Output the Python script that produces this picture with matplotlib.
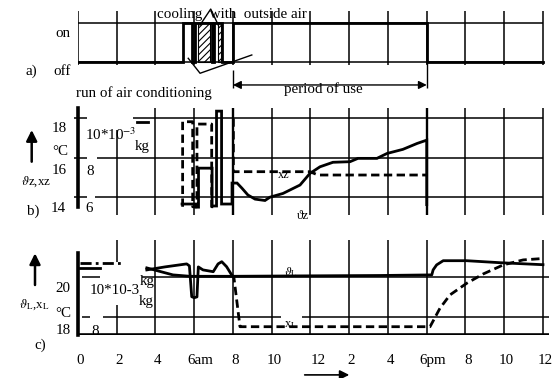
import numpy as np
import matplotlib
matplotlib.use("Agg")
import matplotlib.pyplot as plt
from matplotlib.transforms import blended_transform_factory

plt.rcParams['font.family'] = ['Liberation Serif', 'DejaVu Serif']
plt.rcParams['mathtext.fontset'] = 'stix'
plt.rcParams['hatch.linewidth'] = 0.8

# ---------------- data ----------------
hour_ticks = [0, 2, 4, 6, 8, 10, 12, 14, 16, 18, 20, 22, 24]
hour_labels = ['0', '2', '4', '6am', '8', '10', '12', '2', '4', '6pm', '8', '10', '12']

# a) air conditioning on (1) / off (0)
ac_t = [0, 5.4, 5.4, 5.9, 5.9, 6.04, 6.04, 6.9, 6.9, 7.03, 7.03, 7.45, 7.45, 8.0, 8.0, 18.0, 18.0, 24.0]
ac_s = [0, 0, 1, 1, 0, 0, 1, 1, 0, 0, 1, 1, 0, 0, 1, 1, 0, 0]
cool_start = [6.19, 7.21]
cool_end = [6.81, 7.40]
use_start, use_end = 8.0, 18.0

# b) zone temperature (degC) and zone humidity (g/kg)
tz_t = [5.37, 6.09, 6.09, 6.22, 6.22, 6.92, 6.92, 7.15, 7.15, 7.41, 7.41, 7.95, 7.95, 8.21,
        8.46, 8.77, 9.14, 9.65, 9.91, 10.58, 11.46, 11.97, 12.49, 13.16, 14.04, 14.45,
        15.43, 15.95, 16.77, 17.50, 18.0, 18.0]
tz_v = [13.63, 13.63, 13.47, 13.47, 15.46, 15.46, 13.53, 13.53, 18.37, 18.37, 13.63, 13.63,
        14.70, 14.70, 14.44, 14.09, 13.88, 13.81, 13.98, 14.17, 14.60, 15.19, 15.53, 15.76,
        15.79, 15.96, 15.96, 16.21, 16.42, 16.72, 16.89, 13.6]
xz_t = [5.40, 5.40, 5.92, 5.92, 6.14, 6.14, 6.90, 6.90, 7.15, np.nan, 8.02, 8.02, 11.97, 12.39, 18.0]
xz_v = [5.49, 9.83, 9.83, 5.49, 5.49, 9.71, 9.71, 5.49, 5.49, np.nan, 10.0, 7.28, 7.28, 7.11, 7.11]

# c) supply air temperature (degC) and humidity (g/kg)
thL0_t = [0.1, 1.14]
thL0_v = [20.45, 20.45]
thL_t = [3.55, 4.90, 5.78, 7.95, 11.46, 15.59, 18.26, 18.33, 18.51, 18.85, 20.06, 21.78, 24.0]
thL_v = [20.44, 20.09, 20.02, 20.02, 20.04, 20.06, 20.09, 20.34, 20.59, 20.80, 20.80, 20.70, 20.60]
xL0_t = [0.1, 2.3]
xL0_v = [10.67, 10.67]
xL_t = [3.55, 4.49, 5.61, 5.75, 5.87, 6.0, 6.14, 6.21, 6.45, 6.98, 7.23, 7.42, 7.67, 7.93,
        8.05, 8.36, 18.17, 18.68, 19.20, 20.06, 20.92, 21.95, 22.98, 24.0]
xL_v = [10.34, 10.49, 10.64, 10.54, 9.0, 8.95, 8.99, 10.49, 10.34, 10.25, 10.64, 10.75, 10.5, 10.09,
        9.94, 7.5, 7.5, 8.42, 9.09, 9.67, 10.14, 10.59, 10.84, 10.91]
xL_split = 13  # index where the humidity trace becomes dashed

# ---------------- figure ----------------
W, H = 552, 378
fig = plt.figure(figsize=(W / 100, H / 100), dpi=100)
FS = 10.8
GL = 1.1
SL = 2.0
XMAX = 24.3


def px_axes(x0, x1, y0, y1):
    return fig.add_axes([x0 / W, 1 - y1 / H, (x1 - x0) / W, (y1 - y0) / H])


def ftext(x, y, s, **kw):
    kw.setdefault('fontsize', FS)
    kw.setdefault('ha', 'center')
    kw.setdefault('va', 'center')
    fig.text(x / W, 1 - y / H, s, **kw)


def up_arrow(x, y0, y1):
    fig.add_artist(matplotlib.patches.FancyArrowPatch(
        (x / W, 1 - y0 / H), (x / W, 1 - y1 / H), transform=fig.transFigure,
        arrowstyle='-|>', mutation_scale=16, lw=1.8, color='k', shrinkA=0, shrinkB=0))


# ---- panel a ----
ax_a = px_axes(78, 548.8, 11, 65)
ax_a.set_xlim(0, XMAX)
ax_a.set_ylim(-0.085, 1.30)
ax_a.set_axis_off()
ax_a.vlines(hour_ticks, -0.085, 1.30, color='k', lw=GL)
ax_a.hlines([0, 1], -0.15, 24, color='k', lw=GL)
ax_a.plot(ac_t, ac_s, color='k', lw=SL, solid_joinstyle='miter')
for s, e in zip(cool_start, cool_end):
    ax_a.bar(s, 1, width=e - s, bottom=0, align='edge', fill=False, hatch='/////',
             edgecolor='k', lw=0.8)
# annotation: cooling with outside air
ax_a.text(7.97, 1.223, 'cooling  with  outside air', ha='center', va='center', fontsize=FS,
          clip_on=False)
ax_a.plot([6.30, 6.85, 7.24], [0.94, 1.35, 0.94], color='k', lw=1.0, clip_on=False)
# annotation: run of air conditioning
ax_a.plot([5.69, 6.30, 8.97], [0.087, -0.297, 0.172], color='k', lw=1.0, clip_on=False)
ax_a.text(3.41, -0.80, 'run of air conditioning', ha='center', va='center', fontsize=FS, clip_on=False)
# period of use
ax_a.vlines([use_start], -0.674, -0.213, color='k', lw=1.0, clip_on=False)
ax_a.vlines([use_end], -0.674, 0.0, color='k', lw=1.0, clip_on=False)
ax_a.annotate('', xy=(use_end, -0.597), xytext=(use_start, -0.597), annotation_clip=False,
              arrowprops=dict(arrowstyle='<|-|>', lw=1.0, mutation_scale=12, color='k',
                              shrinkA=0, shrinkB=0))
ax_a.text(12.65, -0.70, 'period of use', ha='center', va='center', fontsize=FS, clip_on=False)
ftext(62.7, 33.3, 'on')
ftext(61.7, 71.7, 'off')
ftext(31.7, 71.7, 'a)')

# ---- panel b ----
ax_b = px_axes(78, 548.8, 108, 215)
ax_b.set_xlim(0, XMAX)
b_lo, b_hi = 13.07, 18.53
ax_b.set_ylim(b_lo, b_hi)
ax_b.set_axis_off()
ax_b.vlines(hour_ticks[2:], b_lo, b_hi, color='k', lw=GL)
ax_b.vlines([2], b_lo, 17.4, color='k', lw=GL)
ax_b.vlines([8, 18], b_lo, b_hi, color='k', lw=GL + 0.6)
ax_b.plot([0, 0], [13.49, b_hi], color='k', lw=2.6, clip_on=False)
ax_b.hlines([18], 2.84, 24, color='k', lw=GL)
ax_b.hlines([16, 14], [0.97, 0.88], 24, color='k', lw=GL)
ax_b.hlines([18, 16, 14], -0.2, 0.45, color='k', lw=GL, clip_on=False)
ax_b.plot([3.03, 3.61], [17.83, 17.83], color='k', lw=2.0)
ax_b.plot(tz_t, tz_v, color='k', lw=SL, solid_joinstyle='miter')
ax_b2 = ax_b.twinx()
ax_b2.set_ylim(b_lo - 8, b_hi - 8)
ax_b2.set_axis_off()
ax_b2.plot(xz_t, xz_v, color='k', lw=SL, ls=(0, (3, 1.6)))
ax_b.text(10.6, 15.1, 'xz', ha='center', va='center', fontsize=FS - 2)
ax_b.text(11.6, 13.0, 'ϑz', ha='center', va='center', fontsize=FS - 1.5, clip_on=False)
up_arrow(31.7, 161.7, 130)
ftext(59.3, 128.3, '18')
ftext(60, 151.7, '°C')
ftext(59.3, 170, '16')
ftext(58.3, 208.3, '14')
ftext(33.3, 211, 'b)')
ftext(90, 171.7, '8')
ftext(89.3, 208.3, '6')
ftext(85, 135, r'10*10$^{-3}$', ha='left')
ftext(142.5, 146.7, 'kg')
ftext(36, 182, r'$\vartheta$z,xz', fontsize=FS - 1.5)

# ---- panel c ----
ax_c = px_axes(78, 548.8, 240, 335)
ax_c.set_xlim(0, XMAX)
c_lo, c_hi = 17.085, 21.835
ax_c.set_ylim(c_lo, c_hi)
for sp in ax_c.spines.values():
    sp.set_visible(False)
ax_c.set_xticks([])
ax_c.set_yticks([])
ax_c.vlines(hour_ticks[2:], c_lo, c_hi, color='k', lw=GL)
ax_c.vlines([2, 2], [c_lo, 20.735], [18.585, c_hi], color='k', lw=GL)
ax_c.plot([0, 0], [c_lo, 21.185], color='k', lw=2.6, clip_on=False)
ax_c.hlines([c_lo], 0, XMAX, color='k', lw=2.6)
ax_c.hlines([20, 20], [0.19, 3.3], [1.14, XMAX], color='k', lw=GL)
ax_c.hlines([18, 18, 18], [0.19, 1.3, 11.55], [0.62, 10.5, XMAX], color='k', lw=GL)
ax_c.plot(thL0_t, thL0_v, color='k', lw=SL)
ax_c.plot(thL_t, thL_v, color='k', lw=SL)
ax_c2 = ax_c.twinx()
ax_c2.set_ylim(c_lo - 10, c_hi - 10)
ax_c2.set_axis_off()
ax_c2.plot(xL0_t, xL0_v, color='k', lw=SL, ls=(0, (4, 1.5, 1, 1.5)))
ax_c2.plot(xL_t[:xL_split + 1], xL_v[:xL_split + 1], color='k', lw=SL)
ax_c2.plot(xL_t[xL_split:], xL_v[xL_split:], color='k', lw=SL, ls=(0, (3, 1.6)))
ax_c.text(11.0, 20.2, r'$\vartheta_\mathrm{L}$', ha='center', va='center', fontsize=FS - 2)
ax_c.text(11.0, 17.6, r'x$_\mathrm{L}$', ha='center', va='center', fontsize=FS - 2)
tr = blended_transform_factory(ax_c.transData, ax_c.transAxes)
for h, lab in zip(hour_ticks, hour_labels):
    dx = 0.12
    if lab.endswith('am') or lab.endswith('pm'):
        dx = 0.3
    if lab == '12' and h == 12:
        dx = 0.4
    ax_c.text(h + dx, -0.265, lab, transform=tr, ha='center', va='center', fontsize=FS)
ax_c.annotate('', xy=(14.0, -0.42), xytext=(11.7, -0.42), xycoords=tr, textcoords=tr,
              annotation_clip=False,
              arrowprops=dict(arrowstyle='-|>', lw=1.2, mutation_scale=14, color='k',
                              shrinkA=0, shrinkB=0))
up_arrow(35, 285, 253.3)
ftext(63.3, 288.3, '20')
ftext(63.3, 313.3, '°C')
ftext(63.3, 331, '18')
ftext(40, 345, 'c)')
ftext(95, 331.7, '8')
ftext(115, 290, '10*10-3')
ftext(147, 281, 'kg')
ftext(146, 302, 'kg')
ftext(34, 305, r'$\vartheta_\mathrm{L}$,x$_\mathrm{L}$', fontsize=FS - 1.5)

fig.savefig('out.png', dpi=100)
